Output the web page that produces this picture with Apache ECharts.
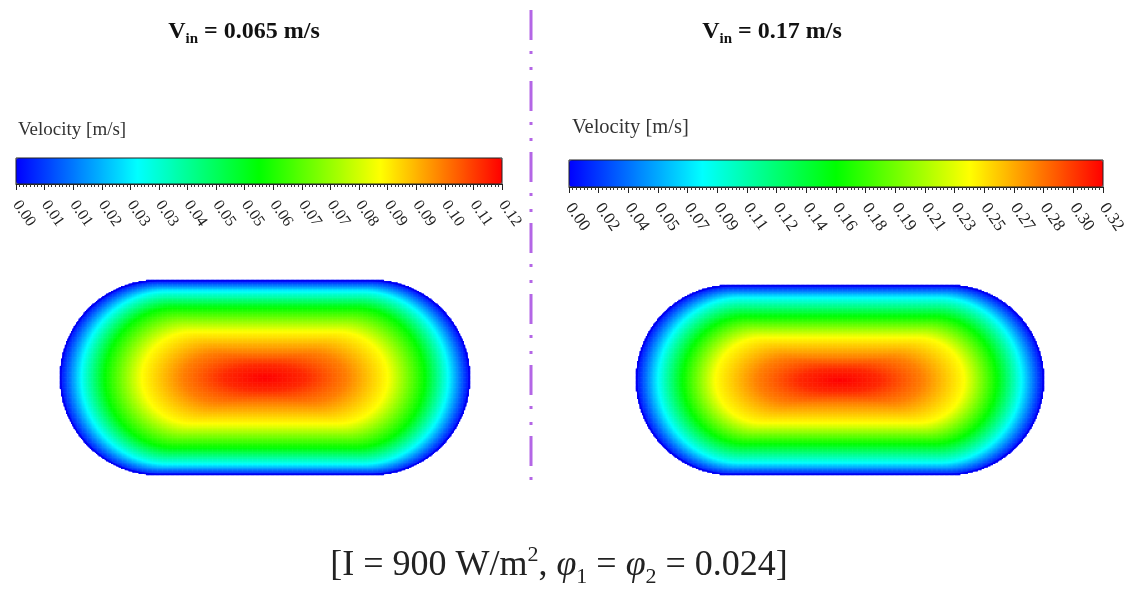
<!DOCTYPE html>
<html>
<head>
<meta charset="utf-8">
<script src="https://cdn.jsdelivr.net/npm/echarts@6/dist/echarts.min.js"></script>
<style>
html, body { margin: 0; background: #fff; }
#main { width: 1136px; height: 589px; }
</style>
</head>
<body>
<div id="main"></div>
<script>
// colour bar tick labels, as printed under each bar
var ticksLow = ['0.00', '0.01', '0.01', '0.02', '0.03', '0.03', '0.04', '0.05', '0.05',
  '0.06', '0.07', '0.07', '0.08', '0.09', '0.09', '0.10', '0.11', '0.12'];
var ticksHigh = ['0.00', '0.02', '0.04', '0.05', '0.07', '0.09', '0.11', '0.12', '0.14', '0.16',
  '0.18', '0.19', '0.21', '0.23', '0.25', '0.27', '0.28', '0.30', '0.32'];
// bar maxima that reproduce the rounded labels above
var vMaxLow = 0.1152;
var vMaxHigh = 0.3186;
var inletSpeeds = ['0.065', '0.17'];
var rainbow = ['#0000ff', '#00ffff', '#00ff00', '#ffff00', '#ff0000'];

// contour rings read off the two sections (wall -> core):
// level as a share of the bar max, ring half height / half length as a share of the section's,
// ringEnd = length of the rounded end over the half height (1 = half circle)
var ringLevel = [0, 0.25, 0.5, 0.75, 0.875, 0.96, 1];
var ringEnd = [1, 1, 1, 1.1, 1.6, 3.2, 3.2];
var ringHalfHeightLow = [1, 0.887, 0.718, 0.472, 0.26, 0.13, 0];
var ringHalfLengthLow = [1, 0.895, 0.78, 0.60, 0.40, 0.20, 0];
var ringHalfHeightHigh = [1, 0.87, 0.67, 0.45, 0.24, 0.12, 0];
var ringHalfLengthHigh = [1, 0.89, 0.77, 0.61, 0.405, 0.20, 0];

var serif = '"Liberation Serif", "DejaVu Serif", serif';

function lerp(arr, t) {
  var k = Math.min(Math.floor(t), arr.length - 2), f = t - k;
  return arr[k] + (arr[k + 1] - arr[k]) * f;
}

// every cell of the section gets the level of the ring that passes through it
function sectionField(nx, ny, pw, ph, hh, hl, vmax) {
  var A = pw / 2, R = ph / 2, cw = pw / nx, ch = ph / ny, n = ringLevel.length - 1;
  function gap(x, y, t) {
    var h = lerp(hh, t) * R, l = lerp(hl, t) * A;
    if (h < 1e-6) return 1;
    var e = Math.min(lerp(ringEnd, t) * h, l), s = l - e;
    var dx = Math.max(Math.abs(x) - s, 0) / e, dy = y / h;
    return Math.sqrt(dx * dx + dy * dy) - 1;
  }
  var out = [];
  for (var j = 0; j < ny; j++) {
    for (var i = 0; i < nx; i++) {
      var x = (i + 0.5) * cw - A, y = (j + 0.5) * ch - R;
      if (gap(x, y, 0) > 0) continue;
      var lo = 0, hi = n;
      for (var it = 0; it < 22; it++) {
        var mid = (lo + hi) / 2;
        if (gap(x, y, mid) > 0) hi = mid; else lo = mid;
      }
      out.push([i, j, +(lerp(ringLevel, (lo + hi) / 2) * vmax).toFixed(5)]);
    }
  }
  return out;
}

var gridLow = { left: 60, top: 280, width: 410, height: 195 };
var gridHigh = { left: 636, top: 285, width: 408, height: 190 };
var nxL = 328, nyL = 156, nxR = 326, nyR = 152;
var fieldLow = sectionField(nxL, nyL, gridLow.width, gridLow.height, ringHalfHeightLow, ringHalfLengthLow, vMaxLow);
var fieldHigh = sectionField(nxR, nyR, gridHigh.width, gridHigh.height, ringHalfHeightHigh, ringHalfLengthHigh, vMaxHigh);

function idx(n) { var a = []; for (var i = 0; i < n; i++) a.push(i); return a; }

function barAxis(grid, labels, fs) {
  return {
    type: 'value', gridIndex: grid, min: 0, max: labels.length - 1, interval: 1,
    position: 'bottom', z: 6,
    axisLine: { show: true, onZero: false, lineStyle: { color: '#222', width: 1 } },
    axisTick: { show: true, length: 6, lineStyle: { color: '#222' } },
    minorTick: { show: true, splitNumber: 8, length: 3, lineStyle: { color: '#333' } },
    splitLine: { show: false },
    axisLabel: {
      rotate: -55, margin: 18, fontFamily: serif, fontSize: fs, color: '#222',
      showMinLabel: true, showMaxLabel: true,
      formatter: function (v) { return labels[Math.round(v)]; }
    }
  };
}

function catAxis(grid, n) {
  return { type: 'category', gridIndex: grid, data: idx(n), show: false };
}

function title(x, speed) {
  return {
    type: 'text', x: x, y: 32,
    style: {
      text: '{v|V}{s|in}{v| = ' + speed + ' m/s}',
      align: 'center', verticalAlign: 'middle',
      rich: {
        v: { fontFamily: serif, fontWeight: 'bold', fontSize: 24, lineHeight: 30, fill: '#111' },
        s: { fontFamily: serif, fontWeight: 'bold', fontSize: 15, lineHeight: 15, verticalAlign: 'bottom', fill: '#111' }
      }
    }
  };
}

function vLabel(x, y, fs) {
  return {
    type: 'text', x: x, y: y,
    style: { text: 'Velocity [m/s]', fontFamily: serif, fontSize: fs, fill: '#333', verticalAlign: 'middle' }
  };
}

// smooth wall line round a section, taken from its grid box
function wall(g) {
  return {
    type: 'rect', z: 10,
    shape: { x: g.left + 0.75, y: g.top + 0.75, width: g.width - 1.5, height: g.height - 1.5, r: (g.height - 1.5) / 2 },
    style: { fill: null, stroke: '#0000f0', lineWidth: 1.5 }
  };
}

var chart = echarts.init(document.getElementById('main'));
chart.setOption({
  backgroundColor: '#fff',
  animation: false,
  grid: [
    gridLow,
    gridHigh,
    { left: 16, top: 158, width: 486, height: 26, show: true, borderColor: '#222', borderWidth: 1, backgroundColor: 'transparent', z: 6 },
    { left: 569, top: 160, width: 534, height: 27, show: true, borderColor: '#222', borderWidth: 1, backgroundColor: 'transparent', z: 6 }
  ],
  xAxis: [catAxis(0, nxL), catAxis(1, nxR), barAxis(2, ticksLow, 16), barAxis(3, ticksHigh, 17)],
  yAxis: [
    catAxis(0, nyL), catAxis(1, nyR),
    { type: 'value', gridIndex: 2, min: 0, max: 1, show: false },
    { type: 'value', gridIndex: 3, min: 0, max: 1, show: false }
  ],
  visualMap: [
    {
      type: 'continuous', seriesIndex: 0, min: 0, max: vMaxLow, orient: 'horizontal',
      left: 16, top: 158, itemWidth: 26, itemHeight: 486, padding: 0, calculable: false,
      hoverLink: false, inRange: { color: rainbow }
    },
    {
      type: 'continuous', seriesIndex: 1, min: 0, max: vMaxHigh, orient: 'horizontal',
      left: 569, top: 160, itemWidth: 27, itemHeight: 534, padding: 0, calculable: false,
      hoverLink: false, inRange: { color: rainbow }
    }
  ],
  series: [
    { type: 'heatmap', xAxisIndex: 0, yAxisIndex: 0, data: fieldLow, progressive: 0, emphasis: { disabled: true } },
    { type: 'heatmap', xAxisIndex: 1, yAxisIndex: 1, data: fieldHigh, progressive: 0, emphasis: { disabled: true } }
  ],
  graphic: [
    wall(gridLow),
    wall(gridHigh),
    title(244, inletSpeeds[0]),
    title(772, inletSpeeds[1]),
    vLabel(18, 130, 19),
    vLabel(572, 128, 20.5),
    {
      type: 'line', shape: { x1: 531, y1: 10, x2: 531, y2: 486 },
      style: { stroke: '#b466e6', lineWidth: 3, lineDash: [30, 11, 3, 13, 3, 11] }
    },
    {
      type: 'text', x: 559, y: 566,
      style: {
        text: '[I = 900 W/m{sup|2}, {phi|φ}{sub|1} = {phi|φ}{sub|2} = 0.024]',
        align: 'center', verticalAlign: 'middle',
        fontFamily: serif, fontSize: 36, lineHeight: 44, fill: '#222',
        rich: {
          sup: { fontFamily: serif, fontSize: 22, lineHeight: 14, verticalAlign: 'top', fill: '#222' },
          sub: { fontFamily: serif, fontSize: 22, lineHeight: 14, verticalAlign: 'bottom', fill: '#222' },
          phi: { fontFamily: serif, fontStyle: 'italic', fontSize: 36, lineHeight: 44, fill: '#222' }
        }
      }
    }
  ]
});
</script>
</body>
</html>
